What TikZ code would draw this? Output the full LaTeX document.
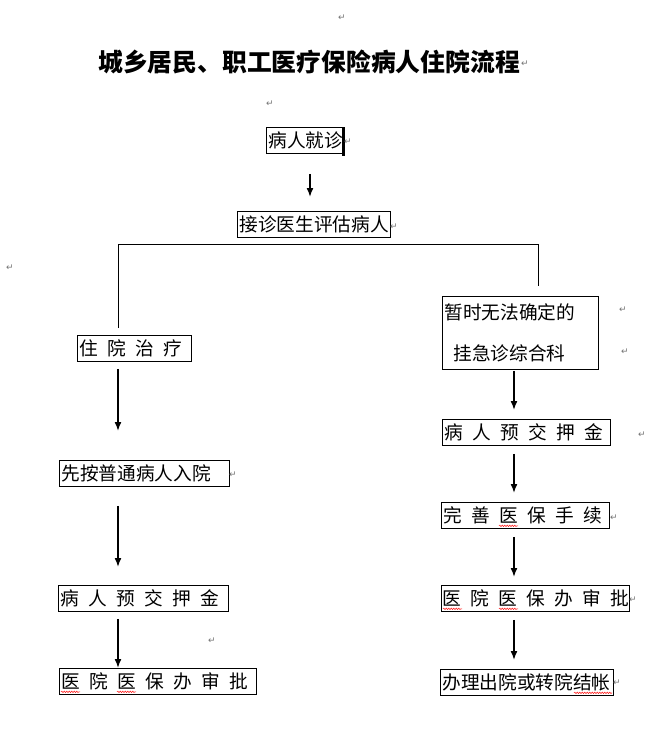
\documentclass[tikz,border=0pt]{standalone}
\usepackage{fontspec}
\newfontfamily\cjk{Noto Sans CJK SC}
\newfontfamily\parafont{DejaVu Sans}
\usetikzlibrary{arrows.meta,decorations.pathmorphing}
\newcommand\chgap{\nobreak\hspace{0.5em}}

\begin{document}
\begin{tikzpicture}[x=1pt,y=-1pt]
    \useasboundingbox (0,0) rectangle (664,747);
    \tikzset{BoxStyle/.style={draw, line width=0.8pt, anchor=north west, minimum height=26pt,
        inner xsep=2pt, inner ysep=0pt, align=left, font=\cjk\fontsize{18.67}{22}\selectfont}}
    \tikzset{MarkStyle/.style={font=\parafont\fontsize{9}{9}\selectfont, text=black!55, inner sep=0pt}}
    \tikzset{ArrowStyle/.style={-{Latex[length=9pt,width=7pt]}, line width=1.6pt}}
    \tikzset{WaveStyle/.style={red, line width=0.5pt, decorate,
        decoration={snake, amplitude=0.7pt, segment length=2.5pt}}}

    \node[font=\cjk\bfseries\fontsize{24.8}{28}\selectfont, anchor=west, inner sep=0pt] (title) at (98,62)
        {城乡居民、职工医疗保险病人住院流程};

    \node[BoxStyle, text width=73pt]  (jz)   at (266,127) {病人就诊};
    \node[BoxStyle, text width=149pt] (jzys) at (237,211) {接诊医生评估病人};

    % left column
    \node[BoxStyle, text width=110pt] (zy)  at (77,335) {住\chgap 院\chgap 治\chgap 疗};
    \node[BoxStyle, text width=166pt] (xa)  at (59,460) {先按普通病人入院};
    \node[BoxStyle, text width=166pt] (yjL) at (58,585) {病\chgap 人\chgap 预\chgap 交\chgap 押\chgap 金};
    \node[BoxStyle, text width=193pt] (spL) at (59,668) {医\chgap 院\chgap 医\chgap 保\chgap 办\chgap 审\chgap 批};

    % right column
    \node[BoxStyle, text width=152pt, minimum height=73pt] (lc) at (442,296)
        {暂时无法确定的\\[19pt]\hspace*{9pt}挂急诊综合科};
    \node[BoxStyle, text width=164pt] (yjR) at (442,419) {病\chgap 人\chgap 预\chgap 交\chgap 押\chgap 金};
    \node[BoxStyle, text width=164pt] (ws)  at (441,502) {完\chgap 善\chgap 医\chgap 保\chgap 手\chgap 续};
    \node[BoxStyle, text width=186pt, inner xsep=1pt] (spR) at (441,585) {医\chgap 院\chgap 医\chgap 保\chgap 办\chgap 审\chgap 批};
    \node[BoxStyle, text width=169pt] (bl)  at (440,669) {办理出院或转院结帐};

    \draw[line width=2.4pt] ([xshift=-0.5pt]jz.north east) -- ([xshift=-0.5pt,yshift=-2pt]jz.south east);

    \coordinate (axisTop) at (310,0);
    \coordinate (forkL) at (118,244);
    \coordinate (forkR) at (538,244);
    \coordinate (axisR) at (514,0);

    \draw[line width=0.8pt] ([yshift=7pt]forkL |- zy.north) -- (forkL) -- (forkR) -- ([yshift=10pt]forkR |- lc.north);

    \draw[ArrowStyle] ([yshift=-20pt]axisTop |- jz.south) -- ([yshift=14pt]axisTop |- jzys.north);

    \draw[ArrowStyle] ([yshift=-7pt]forkL |- zy.south)  -- ([yshift=29pt]forkL |- xa.north);
    \draw[ArrowStyle] ([yshift=-19pt]forkL |- xa.south) -- ([yshift=18pt]forkL |- yjL.north);
    \draw[ArrowStyle] ([yshift=-7pt]forkL |- yjL.south) -- (forkL |- spL.north);

    \draw[ArrowStyle] ([yshift=-1pt]axisR |- lc.south)  -- ([yshift=9pt]axisR |- yjR.north);
    \draw[ArrowStyle] ([yshift=-8pt]axisR |- yjR.south) -- ([yshift=9pt]axisR |- ws.north);
    \draw[ArrowStyle] ([yshift=-8pt]axisR |- ws.south)  -- ([yshift=8pt]axisR |- spR.north);
    \draw[ArrowStyle] ([yshift=-8pt]axisR |- spR.south) -- ([yshift=9pt]axisR |- bl.north);

    % spelling marks
    \draw[WaveStyle] ([xshift=2pt,yshift=3pt]spL.south west) -- ++(19,0);
    \draw[WaveStyle] ([xshift=58pt,yshift=3pt]spL.south west) -- ++(19,0);
    \draw[WaveStyle] ([xshift=2pt,yshift=3pt]spR.south west) -- ++(19,0);
    \draw[WaveStyle] ([xshift=58pt,yshift=3pt]spR.south west) -- ++(19,0);
    \draw[WaveStyle] ([xshift=58pt,yshift=3pt]ws.south west) -- ++(19,0);
    \draw[WaveStyle] ([xshift=134pt,yshift=3pt]bl.south west) -- ++(38,0);

    % paragraph marks
    \foreach \x/\y [count=\i] in {342/18, 525/64, 270/104, 348/142, 394/227, 10/268, 623/310, 625/352,
        233/475, 642/435, 212/641, 614/518, 633/600, 617/683}
        \node[MarkStyle] (mark\i) at (\x,\y) {↵};
\end{tikzpicture}
\end{document}
